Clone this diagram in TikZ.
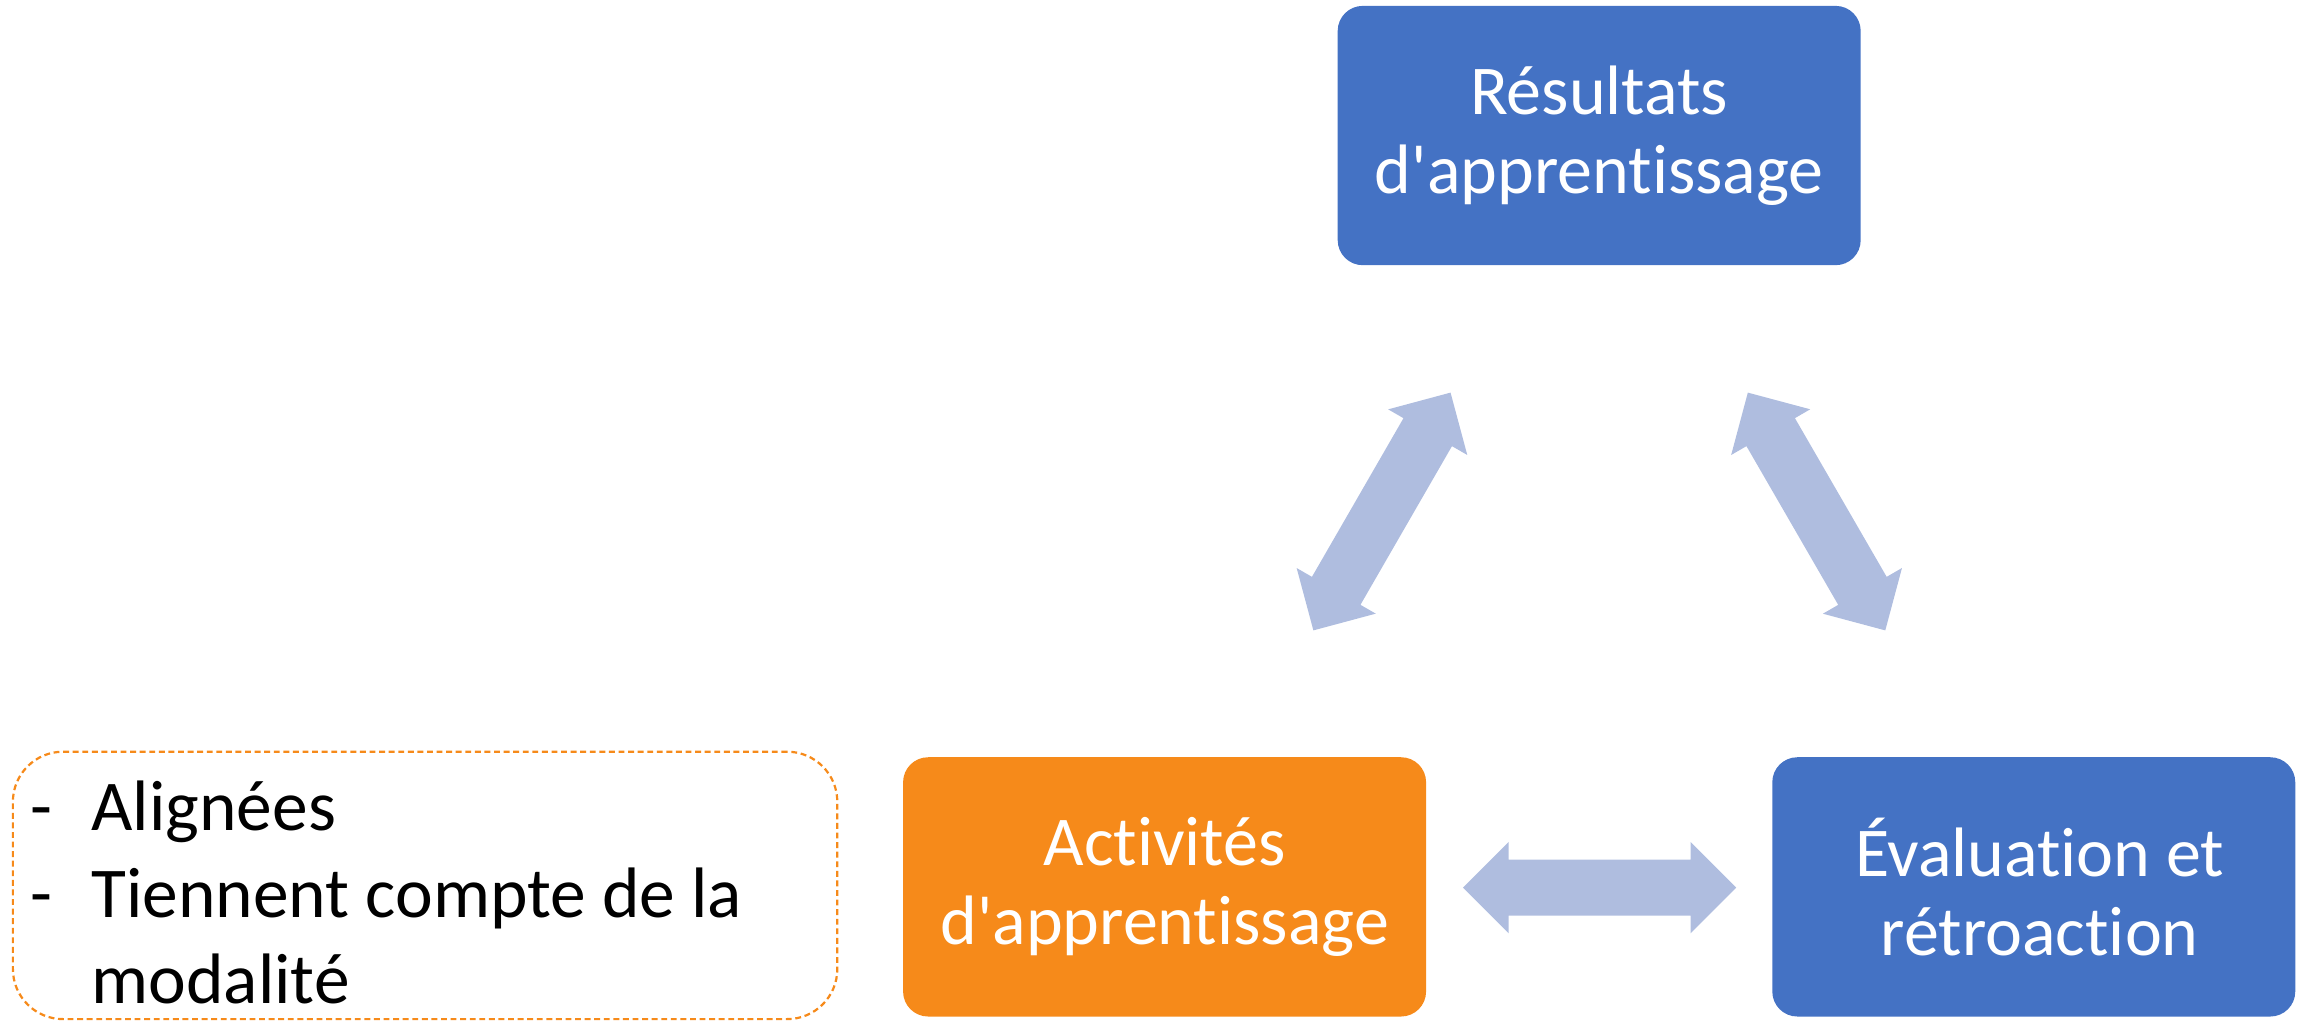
\documentclass[tikz,border=0pt]{standalone}
\usepackage{fontspec}
\setmainfont{Carlito}[Ligatures={TeXOff,CommonOff}]
\usetikzlibrary{calc}
\definecolor{boxblue}{HTML}{4472C4}
\definecolor{boxorange}{HTML}{F68A1A}
\definecolor{arrowc}{HTML}{AFBDDF}
\newcommand\mydblarrow[2]{%
 \fill[arr] (#1) -- ($(#1)!31pt!(#2)!31pt!90:(#2)$) -- ($(#1)!31pt!(#2)!19pt!90:(#2)$)
  -- ($(#2)!31pt!(#1)!19pt!-90:(#1)$) -- ($(#2)!31pt!(#1)!31pt!-90:(#1)$) -- (#2)
  -- ($(#2)!31pt!(#1)!31pt!90:(#1)$) -- ($(#2)!31pt!(#1)!19pt!90:(#1)$)
  -- ($(#1)!31pt!(#2)!19pt!-90:(#2)$) -- ($(#1)!31pt!(#2)!31pt!-90:(#2)$) -- cycle;}
\begin{document}
\begin{tikzpicture}[x=1pt,y=-1pt,
 box/.style={rectangle, rounded corners=17pt, minimum width=355pt, minimum height=176pt,
   text=white, align=center, font=\fontsize{47.5}{53.5}\selectfont, inner sep=0pt},
 arr/.style={fill=arrowc},
 frame/.style={draw=boxorange, dash pattern=on 4pt off 2.5pt, line width=1.5pt, rounded corners=34pt,
   rectangle, minimum width=559.6pt, minimum height=181.5pt, inner sep=0pt}]
\useasboundingbox (0,0) rectangle (1568,692.4);
\node[box, fill=boxblue] (res) at (1085.5,92) {Résultats\\d'apprentissage};
\node[box, fill=boxorange] (act) at (790.5,602) {Activités\\d'apprentissage};
\node[box, fill=boxblue] (eva) at (1380.5,602) {\hspace*{8pt}Évaluation et\\\hspace*{8pt}rétroaction};
\node[frame, anchor=north west] (frm) at (8,509.5) {};
\node[anchor=base west, align=left, inner sep=0pt, font=\fontsize{48.5}{58.5}\selectfont] (list) at (20.5,681)
 {\makebox[41.5pt][l]{-}Alignées\\\makebox[41.5pt][l]{-}Tiennent compte de la\\\makebox[41.5pt][l]{}modalité};
\coordinate (l1) at (984.6,266.5);
\coordinate (l2) at (891.5,427.9);
\coordinate (r1) at (1186.4,266.5);
\coordinate (r2) at (1279.7,427.9);
\coordinate (h1) at (993,602.5);
\coordinate (h2) at (1178.5,602.5);
\mydblarrow{l1}{l2}
\mydblarrow{r1}{r2}
\mydblarrow{h1}{h2}
\end{tikzpicture}
\end{document}
